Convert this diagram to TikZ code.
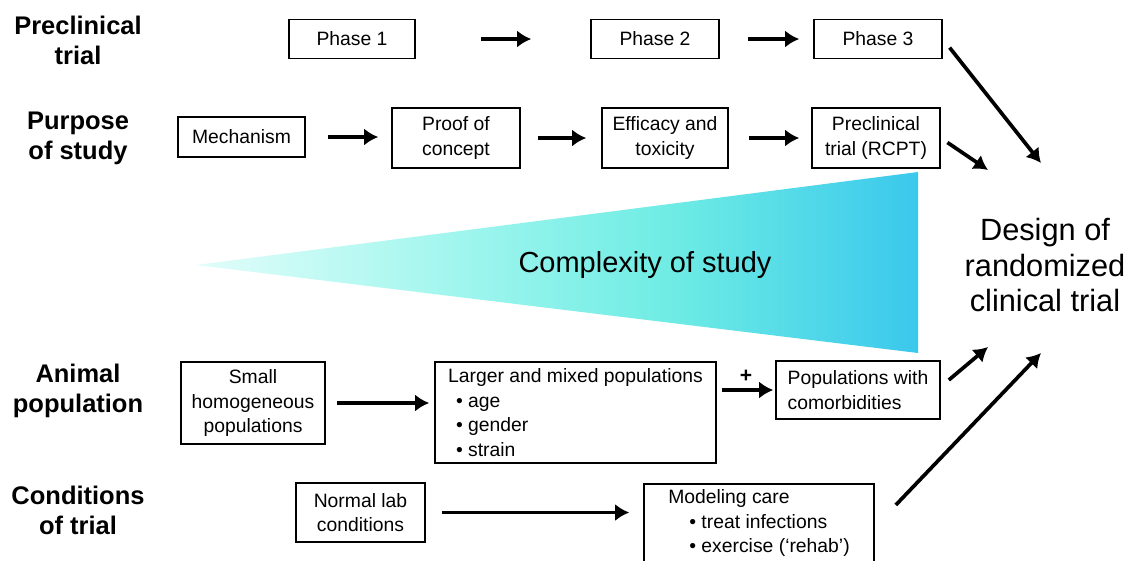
\documentclass[tikz,border=0pt]{standalone}
\usepackage{fontspec}
\setmainfont{Liberation Sans}
\usetikzlibrary{arrows.meta,positioning,calc}

\definecolor{tipcyan}{RGB}{226,253,250}
\definecolor{lightcyan}{RGB}{160,246,238}
\definecolor{midcyan}{RGB}{110,236,228}
\definecolor{endcyan}{RGB}{58,200,236}
\pgfdeclarehorizontalshading{wedge}{100bp}{color(0bp)=(tipcyan); color(25bp)=(tipcyan);
  color(43bp)=(lightcyan); color(58bp)=(midcyan); color(75bp)=(endcyan); color(100bp)=(endcyan)}

\begin{document}
\begin{tikzpicture}[
  x=0.2mm, y=-0.2mm,
  font=\fontsize{11}{14}\selectfont,
  box/.style={draw, line width=0.9pt, align=center, inner sep=2pt},
  rowlbl/.style={font=\fontsize{14.5}{17}\selectfont\bfseries, align=center},
  arr/.style={-{Latex[length=2.8mm, width=3.4mm]}, line width=2.1pt},
  lbl/.style={font=\fontsize{12}{14}\selectfont\bfseries, inner sep=1pt}
]
  \fill[white] (0,0) rectangle (1134,560);
  \useasboundingbox (0,0) rectangle (1134,560);

  % complexity wedge
  \shade[shading=wedge] (196,265) -- (918,172) -- (918,353) -- cycle;
  \node[font=\fontsize{16.5}{19}\selectfont] (cx) at (645,265) {Complexity of study};

  % row labels
  \node[rowlbl] (r1) at (78,40) {Preclinical\\trial};
  \node[rowlbl] (r2) at (78,138) {Purpose\\of study};
  \node[rowlbl] (r3) at (78,391) {Animal\\population};
  \node[rowlbl] (r4) at (78,510) {Conditions\\of trial};

  % phases
  \node[box, minimum width=25.2mm, minimum height=7.8mm] (ph1) at (352,39) {Phase 1};
  \node[box, minimum width=25.6mm, minimum height=7.8mm] (ph2) at (655,39) {Phase 2};
  \node[box, minimum width=25.6mm, minimum height=7.8mm] (ph3) at (878,39) {Phase 3};

  % purpose of study
  \node[box, minimum width=25.4mm, minimum height=8mm] (mech) at (241.5,137) {Mechanism};
  \node[box, minimum width=25.6mm, minimum height=12mm] (poc) at (456,138) {Proof of\\concept};
  \node[box, minimum width=25.2mm, minimum height=12mm] (eff) at (665,138) {Efficacy and\\toxicity};
  \node[box, minimum width=25.6mm, minimum height=12mm] (rcpt) at (876,138) {Preclinical\\trial (RCPT)};

  % animal population
  \node[box, minimum width=28.8mm, minimum height=16.4mm] (small) at (253,403)
    {Small\\homogeneous\\populations};
  \node[box, align=left, minimum width=56.2mm, minimum height=20.2mm] (mixed) at (575.5,412.5)
    {Larger and mixed populations\\
     \hspace*{4.5pt}\textbullet\ age\\
     \hspace*{4.5pt}\textbullet\ gender\\
     \hspace*{4.5pt}\textbullet\ strain};
  \node[box, align=left, minimum width=32.8mm, minimum height=11.6mm] (comorb) at (858,390)
    {Populations with\\comorbidities};

  % conditions of trial
  \node[box, minimum width=25.8mm, minimum height=11.8mm] (normal) at (360.5,512.5)
    {Normal lab\\conditions};
  \node[box, align=left, minimum width=46mm, minimum height=15.6mm] (care) at (759,523)
    {Modeling care\\
     \hspace*{12pt}\textbullet\ treat infections\\
     \hspace*{12pt}\textbullet\ exercise (‘rehab’)};

  % target
  \node[font=\fontsize{17.5}{20}\selectfont, align=center] (design) at (1045,265)
    {Design of\\randomized\\clinical trial};
  \coordinate (in1) at (1041,163);
  \coordinate (in2) at (988,170);
  \coordinate (in3) at (988,347);
  \coordinate (in4) at (1041,353);

  \draw[arr, shorten <=13mm, shorten >=11.8mm] (ph1.east) -- (ph2.west);
  \draw[arr, shorten <=5.6mm, shorten >=2.8mm] (ph2.east) -- (ph3.west);
  \draw[arr, shorten <=4.4mm, shorten >=2.6mm] (mech.east) -- (mech.east -| poc.west);
  \draw[arr, shorten <=3.4mm, shorten >=3mm] (poc.east) -- (eff.west);
  \draw[arr, shorten <=4mm, shorten >=2.4mm] (eff.east) -- (rcpt.west);
  \draw[arr, shorten <=2.2mm, shorten >=1mm] (small.east) -- (small.east -| mixed.west);
  \draw[arr, shorten <=1mm, shorten >=0.4mm] (mixed.east |- comorb.west) -- (comorb.west)
    node[lbl, midway, above=2pt] {+};
  \draw[arr, shorten <=3.2mm, shorten >=2.8mm] (normal.east) -- (normal.east -| care.west);

  % into the trial design
  \draw[arr, shorten <=2.2mm] (ph3.east) -- (in1);
  \draw[arr, shorten <=1.6mm] (rcpt.east) -- (in2);
  \draw[arr] ($(comorb.east)+(8,-10)$) -- (in3);
  \draw[arr] ($(care.east)+(21,-18)$) -- (in4);
\end{tikzpicture}
\end{document}
